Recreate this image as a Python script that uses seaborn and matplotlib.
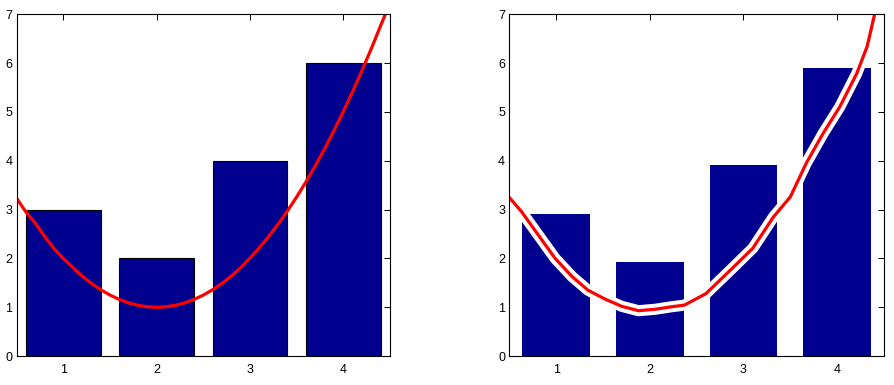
import numpy as np
import pandas as pd
import seaborn as sns
import matplotlib
matplotlib.use("Agg")
import matplotlib.pyplot as plt
import matplotlib.patheffects as pe

# bar values (left: plain, right: the "sketchy" version)
bar_x = [1, 2, 3, 4]
bar_left = [3, 2, 4, 6]
bar_right = [2.9, 1.92, 3.92, 5.9]

# red curve
curve_left_x = [0.5, 0.6, 0.7, 0.8, 0.9, 1.0, 1.1, 1.2, 1.3, 1.4, 1.5, 1.6, 1.7, 1.8, 1.9,
                2.0, 2.1, 2.2, 2.3, 2.4, 2.5, 2.6, 2.7, 2.8, 2.9, 3.0, 3.1, 3.2, 3.3, 3.4,
                3.5, 3.6, 3.7, 3.8, 3.9, 4.0, 4.1, 4.2, 4.3, 4.4, 4.45]
curve_left_y = [3.23, 2.95, 2.72, 2.45, 2.2, 2.0, 1.82, 1.64, 1.49, 1.36, 1.25, 1.16, 1.09, 1.04, 1.01,
                1.0, 1.01, 1.04, 1.09, 1.16, 1.25, 1.36, 1.49, 1.64, 1.81, 2.01, 2.22, 2.45, 2.7, 2.97,
                3.26, 3.57, 3.9, 4.25, 4.62, 5.01, 5.42, 5.85, 6.3, 6.77, 7.0]
curve_right_x = [0.5, 0.63, 0.81, 0.99, 1.17, 1.34, 1.52, 1.7, 1.88, 2.06, 2.23, 2.37,
                 2.6, 2.86, 3.1, 3.32, 3.5, 3.67, 3.85, 4.03, 4.21, 4.32, 4.4]
curve_right_y = [3.25, 2.96, 2.48, 2.0, 1.63, 1.35, 1.17, 1.02, 0.93, 0.96, 1.01, 1.045,
                 1.28, 1.76, 2.21, 2.85, 3.26, 3.95, 4.56, 5.11, 5.79, 6.34, 7.0]

navy = (0, 0, 0.5625)

sns.set_style("white")
plt.rcParams['font.family'] = ['Liberation Sans', 'DejaVu Sans']

fig = plt.figure(figsize=(8.95, 3.85), dpi=100)
ax1 = fig.add_axes([0.0186, 0.075, 0.4172, 0.888])
ax2 = fig.add_axes([0.569, 0.075, 0.4187, 0.888])

# left panel
sns.barplot(x=bar_x, y=bar_left, native_scale=True, width=0.8, color=navy,
            saturation=1, edgecolor="black", linewidth=0.8, ax=ax1)
sns.lineplot(x=curve_left_x, y=curve_left_y, sort=False, color="red", lw=2.3, ax=ax1)

# right panel, line with a white halo
sns.barplot(x=bar_x, y=bar_right, native_scale=True, width=0.72, color=navy,
            saturation=1, linewidth=0, ax=ax2)
sns.lineplot(x=curve_right_x, y=curve_right_y, sort=False, color="red", lw=2.3, ax=ax2,
             path_effects=[pe.Stroke(linewidth=8, foreground="white"), pe.Normal()])

for ax in (ax1, ax2):
    ax.set_xlim(0.5, 4.5)
    ax.set_ylim(0, 7)
    ax.set_xticks(bar_x)
    ax.set_yticks(range(0, 8))
    ax.tick_params(direction="in", length=4, width=0.7, top=True, right=True,
                   labelsize=9, pad=6, colors="black")
    ax.tick_params(axis="y", pad=3)
    for s in ax.spines.values():
        s.set_visible(True)
        s.set_color("black")
        s.set_linewidth(0.8)
    ax.set_xlabel("")
    ax.set_ylabel("")

fig.savefig("out.png", dpi=100, facecolor="white")
